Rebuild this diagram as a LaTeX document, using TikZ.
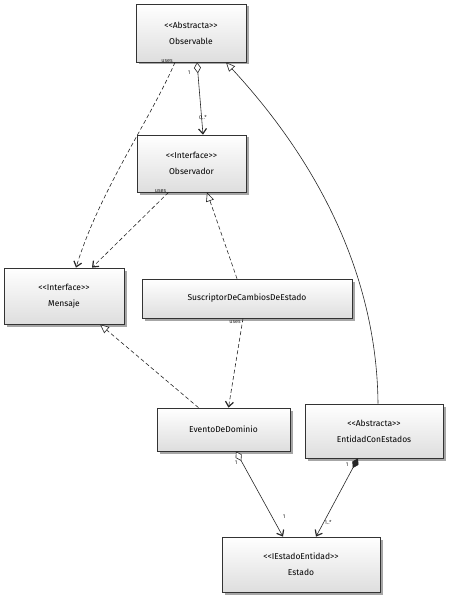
\documentclass[tikz,border=0pt]{standalone}
\usepackage{fontspec}
\setmainfont[Ligatures=NoCommon]{Fira Sans}
\usetikzlibrary{arrows.meta,shadows,calc}
\newcommand{\stereo}[1]{{<}{<}#1{>}{>}}
\begin{document}
\begin{tikzpicture}[x=1pt,y=-1pt,
  cls/.style={rectangle, draw=black!80, line width=0.7pt,
    top color=white, bottom color=black!13,
    drop shadow={shadow xshift=2.5pt,shadow yshift=-2.5pt,opacity=0.35,fill=black},
    align=center, inner sep=0pt, font=\fontsize{8.5}{16}\selectfont},
  conn/.style={draw=black!85, line width=0.6pt},
  barb/.style={-{Straight Barb[length=5pt,width=8pt,line width=1.2pt]}},
  dep/.style={conn, dash pattern=on 4pt off 2.5pt, barb},
  realiz/.style={conn, dash pattern=on 4pt off 2.5pt,
    -{Triangle[open,length=9pt,width=8pt,fill=white]}},
  inherit/.style={conn, -{Triangle[open,length=9pt,width=8pt,fill=white]}},
  aggr/.style={conn, {Diamond[open,length=11pt,width=7pt,fill=white]}-{Straight Barb[length=5pt,width=8pt,line width=1.2pt]}},
  comp/.style={conn, {Diamond[length=11pt,width=7pt,fill=black!85]}-{Straight Barb[length=5pt,width=8pt,line width=1.2pt]}},
  lbl/.style={font=\fontsize{5.5}{6}\selectfont, inner sep=1pt, text=black!85}
]
\useasboundingbox (0,0) rectangle (450,596);

% classes
\node[cls, minimum width=110pt, minimum height=58pt] (obs) at (191,33)
  {\stereo{Abstracta}\\Observable};
\node[cls, minimum width=109pt, minimum height=57pt] (obsr) at (191.5,163.5)
  {\stereo{Interface}\\Observador};
\node[cls, minimum width=120pt, minimum height=56pt] (men) at (64,296)
  {\stereo{Interface}\\Mensaje};
\node[cls, minimum width=210pt, minimum height=39pt] (sus) at (247,298.5)
  {SuscriptorDeCambiosDeEstado};
\node[cls, minimum width=133pt, minimum height=43pt] (evt) at (223.5,429.5)
  {EventoDeDominio};
\node[cls, minimum width=138pt, minimum height=54pt] (ent) at (374,431)
  {\stereo{Abstracta}\\EntidadConEstados};
\node[cls, minimum width=158pt, minimum height=55pt] (est) at (301,564.5)
  {\stereo{IEstadoEntidad}\\Estado};

% Observable uses Mensaje
\draw[dep] ([xshift=-16pt]obs.south) .. controls (150,120) and (100,190) .. ([xshift=12pt]men.north);
\node[lbl, anchor=south east] at ([xshift=-17pt,yshift=-1pt]obs.south) {uses};

% Observable aggregates Observador
\draw[aggr] ([xshift=6pt]obs.south) -- ([xshift=11.5pt]obsr.north);
\node[lbl] at (189,73) {1};
\node[lbl, anchor=west] at (198,118) {0..*};

% EntidadConEstados extends Observable
\draw[inherit] ([xshift=4pt]ent.north) .. controls (377,290) and (330,175) .. ([xshift=35pt]obs.south);

% Observador uses Mensaje
\draw[dep] ([xshift=-23pt]obsr.south) -- ([xshift=28pt]men.north);
\node[lbl, anchor=south east] at ([xshift=-24pt,yshift=-1pt]obsr.south) {uses};

% SuscriptorDeCambiosDeEstado realizes Observador
\draw[realiz] ([xshift=-10pt]sus.north) -- ([xshift=15.5pt]obsr.south);

% EventoDeDominio realizes Mensaje
\draw[realiz] ([xshift=-25pt]evt.north) -- ([xshift=36pt]men.south);

% SuscriptorDeCambiosDeEstado uses EventoDeDominio
\draw[dep] ([xshift=-4pt]sus.south) -- ([xshift=5pt]evt.north);
\node[lbl, anchor=north east] at ([xshift=-5pt,yshift=-1pt]sus.south) {uses};

% EventoDeDominio aggregates Estado
\draw[aggr] ([xshift=12.5pt]evt.south) -- ([xshift=-18pt]est.north);
\node[lbl] at (236,463) {1};
\node[lbl] at (284,517) {1};

% EntidadConEstados composes Estado
\draw[comp] ([xshift=-16pt]ent.south) -- ([xshift=15pt]est.north);
\node[lbl] at (347,465) {1};
\node[lbl] at (328,522) {1..*};
\end{tikzpicture}
\end{document}
